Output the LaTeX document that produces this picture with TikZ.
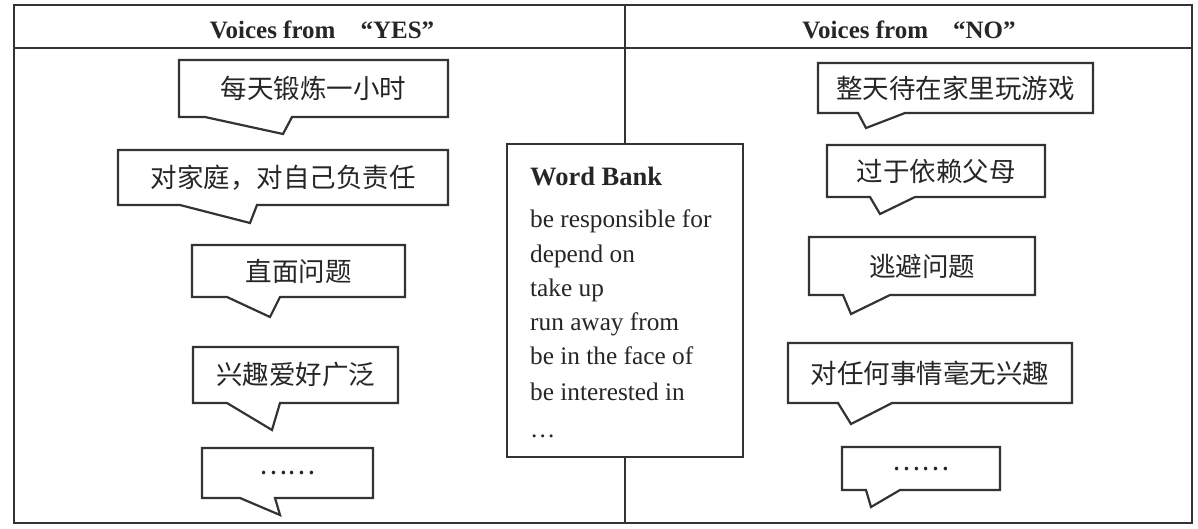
\documentclass[tikz,border=0pt]{standalone}
\usepackage{fontspec}
\setmainfont{Liberation Serif}
\newfontfamily\cjk{Noto Sans CJK SC}
\definecolor{ink}{gray}{0.2}
\definecolor{txt}{gray}{0.15}
\begin{document}
\begin{tikzpicture}[x=1pt,y=-1pt,
  frame/.style={draw=ink,line width=2.6pt},
  bubble/.style={draw=ink,line width=2.2pt,line join=miter},
  cjktext/.style={text=txt,font=\cjk\fontsize{26.5}{26.5}\selectfont,inner sep=0pt},
  head/.style={text=txt,font=\bfseries\fontsize{25}{25}\selectfont,inner sep=0pt,anchor=base},
  wb/.style={text=txt,font=\fontsize{25.3}{25.3}\selectfont,inner sep=0pt,anchor=base west}]
\useasboundingbox (0,0) rectangle (1198,528);
% frame
\draw[frame] (14,5) rectangle (1192,523);
\coordinate (hl) at (14,48); \coordinate (hr) at (1192,48);
\draw[frame] (hl) -- (hr);
\coordinate (mt) at (625,5); \coordinate (mb) at (625,523);
\draw[frame] (mt) -- (mb);
\node[head] (hyes) at (322,38) {Voices from\hspace{1em}“YES”};
\node[head] (hno) at (909,38) {Voices from\hspace{1em}“NO”};
% word bank
\draw[frame,fill=white] (507,144) rectangle (743,457);
\node[wb,font=\bfseries\fontsize{26.5}{26.5}\selectfont] (w0) at (530,185) {Word Bank};
\node[wb] (w1) at (530,227) {be responsible for};
\node[wb] (w2) at (530,262) {depend on};
\node[wb] (w3) at (530,296) {take up};
\node[wb] (w4) at (530,330) {run away from};
\node[wb] (w5) at (530,364) {be in the face of};
\node[wb] (w6) at (530,400) {be interested in};
\node[wb] (w7) at (530,437) {\ldots};
% left bubbles
\draw[bubble] (179,60) -- (448,60) -- (448,117) -- (292,117) -- (283,134) -- (205,117) -- (179,117) -- cycle;
\node[cjktext] (l1) at (313.5,88.5) {每天锻炼一小时};
\draw[bubble] (118,150) -- (448,150) -- (448,205) -- (257,205) -- (250,223) -- (180,205) -- (118,205) -- cycle;
\node[cjktext] (l2) at (283,177.5) {对家庭，对自己负责任};
\draw[bubble] (192,245) -- (405,245) -- (405,297) -- (280,297) -- (270,317) -- (227,297) -- (192,297) -- cycle;
\node[cjktext] (l3) at (298.5,271) {直面问题};
\draw[bubble] (193,347) -- (398,347) -- (398,403) -- (280,403) -- (272,430) -- (227,403) -- (193,403) -- cycle;
\node[cjktext] (l4) at (295.5,375) {兴趣爱好广泛};
\draw[bubble] (202,448) -- (373,448) -- (373,498) -- (275,498) -- (280,515) -- (240,498) -- (202,498) -- cycle;
\node[cjktext] (l5) at (287.5,473) {……};
% right bubbles
\draw[bubble] (818,63) -- (1093,63) -- (1093,113) -- (905,113) -- (866,128) -- (858,113) -- (818,113) -- cycle;
\node[cjktext] (r1) at (955.5,88) {整天待在家里玩游戏};
\draw[bubble] (827,145) -- (1045,145) -- (1045,197) -- (915,197) -- (880,214) -- (870,197) -- (827,197) -- cycle;
\node[cjktext] (r2) at (936,171) {过于依赖父母};
\draw[bubble] (809,237) -- (1035,237) -- (1035,295) -- (890,295) -- (851,314) -- (843,295) -- (809,295) -- cycle;
\node[cjktext] (r3) at (922,266) {逃避问题};
\draw[bubble] (788,343) -- (1072,343) -- (1072,403) -- (892,403) -- (851,424) -- (838,403) -- (788,403) -- cycle;
\node[cjktext] (r4) at (930,373) {对任何事情毫无兴趣};
\draw[bubble] (842,447) -- (1000,447) -- (1000,490) -- (900,490) -- (871,507) -- (866,490) -- (842,490) -- cycle;
\node[cjktext] (r5) at (921,468.5) {……};
\end{tikzpicture}
\end{document}
